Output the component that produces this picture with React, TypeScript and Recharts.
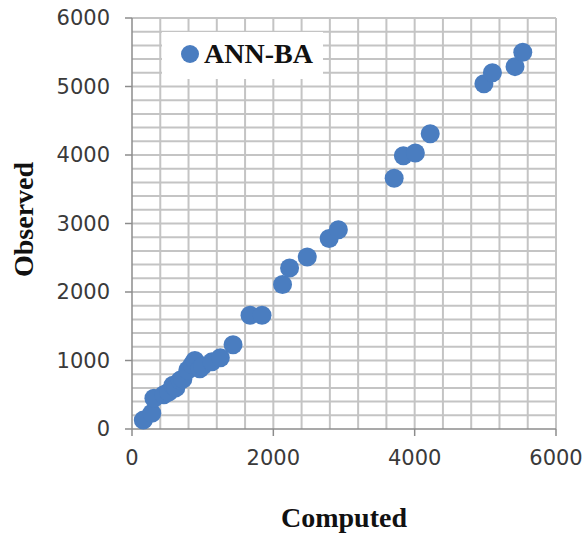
import React from 'react';
import {
  ScatterChart,
  Scatter,
  XAxis,
  YAxis,
  CartesianGrid,
  Legend,
  Label,
} from 'recharts';

// computed vs observed (ANN-BA)
const computed = [160, 280, 310, 450, 520, 580, 620, 680, 720, 790, 850, 890, 960, 1000, 1130, 1250, 1430, 1670, 1840, 2130, 2230, 2480, 2790, 2920, 3710, 3840, 4010, 4220, 4980, 5100, 5420, 5530];
const observed = [130, 230, 450, 500, 540, 640, 600, 710, 730, 860, 940, 1000, 880, 920, 980, 1040, 1230, 1660, 1660, 2110, 2350, 2510, 2780, 2910, 3660, 3990, 4030, 4310, 5040, 5200, 5290, 5500];

const xTicks = [0, 2000, 4000, 6000];
const yTicks = [0, 1000, 2000, 3000, 4000, 5000, 6000];
// minor grid (Excel-like)
const xGrid = [400, 800, 1200, 1600, 2000, 2400, 2800, 3200, 3600, 4000, 4400, 4800, 5200, 5600, 6000];
const yGrid = [200, 400, 600, 800, 1000, 1200, 1400, 1600, 1800, 2000, 2200, 2400, 2600, 2800, 3000, 3200, 3400, 3600, 3800, 4000, 4200, 4400, 4600, 4800, 5000, 5200, 5400, 5600, 5800, 6000];

const seriesName = 'ANN-BA';

const data = computed.map((c, i) => ({ computed: c, observed: observed[i] }));

const BLUE = '#4a7dc0';
const GRID = '#c4c4c4';
const AXIS = '#8c8c8c';
const serif = '"Liberation Serif", "Times New Roman", serif';
const tickStyle = { fontSize: 21, fill: '#3a3a3a', fontFamily: '"DejaVu Sans", sans-serif' };

// value -> pixel through the axis scale (recharts 3 may wrap it)
function toPx(axis: any, v: number, fallback: (v: number) => number) {
  const s = axis && axis.scale;
  if (typeof s === 'function') {
    const r = s(v);
    if (typeof r === 'number' && !isNaN(r)) return r;
  }
  if (s && typeof s.map === 'function') {
    const r = s.map(v);
    if (typeof r === 'number' && !isNaN(r)) return r;
  }
  return fallback(v);
}

function vertical({ xAxis, offset }: any) {
  const [d0, d1] = [0, 6000];
  return xGrid.map((v) =>
    toPx(xAxis, v, (u) => offset.left + ((u - d0) / (d1 - d0)) * offset.width)
  );
}
function horizontal({ yAxis, offset }: any) {
  const [d0, d1] = [0, 6000];
  return yGrid.map((v) =>
    toPx(yAxis, v, (u) => offset.top + offset.height - ((u - d0) / (d1 - d0)) * offset.height)
  );
}

function Dot(props: any) {
  const { cx, cy } = props;
  return <circle cx={cx} cy={cy} r={9.5} fill={BLUE} />;
}

function LegendBox() {
  return (
    <div
      style={{
        width: 161,
        height: 47,
        background: '#fff',
        display: 'flex',
        alignItems: 'center',
      }}
    >
      <svg width={37} height={47}>
        <circle cx={28} cy={22} r={9} fill={BLUE} />
      </svg>
      <span
        style={{
          fontFamily: serif,
          fontWeight: 'bold',
          fontSize: 28,
          color: '#111',
          marginLeft: 5,
          marginTop: -3,
        }}
      >
        {seriesName}
      </span>
    </div>
  );
}

function ObservedLabel(props: any) {
  const { viewBox } = props;
  const x = viewBox.x + 33;
  const y = viewBox.y + viewBox.height / 2 - 4;
  return (
    <text
      x={x}
      y={y}
      transform={`rotate(-90, ${x}, ${y})`}
      textAnchor="middle"
      fontFamily={serif}
      fontWeight="bold"
      fontSize={28}
      fill="#111"
    >
      Observed
    </text>
  );
}

export default function App() {
  return (
    <div style={{ position: 'absolute', left: 0, top: 0, background: '#fff' }}>
      <ScatterChart
        width={583}
        height={533}
        margin={{ top: 18, right: 27, bottom: 0, left: 0 }}
      >
        <CartesianGrid
          stroke={GRID}
          strokeWidth={2}
          verticalCoordinatesGenerator={vertical}
          horizontalCoordinatesGenerator={horizontal}
        />
        <XAxis
          type="number"
          dataKey="computed"
          domain={[0, 6000]}
          ticks={xTicks}
          height={104}
          axisLine={{ stroke: AXIS, strokeWidth: 1.5 }}
          tickLine={{ stroke: AXIS, strokeWidth: 1.5 }}
          tickSize={7}
          tickMargin={14}
          tick={tickStyle}
        >
          <Label
            value="Computed"
            position="insideBottom"
            offset={6}
            style={{ fontFamily: serif, fontWeight: 'bold', fontSize: 28, fill: '#111' }}
          />
        </XAxis>
        <YAxis
          type="number"
          dataKey="observed"
          domain={[0, 6000]}
          ticks={yTicks}
          width={132}
          axisLine={{ stroke: AXIS, strokeWidth: 1.5 }}
          tickLine={{ stroke: AXIS, strokeWidth: 1.5 }}
          tickSize={7}
          tickMargin={15}
          tick={tickStyle}
          label={<ObservedLabel />}
        />
        <Legend
          layout="vertical"
          align="center"
          verticalAlign="middle"
          content={<LegendBox />}
          wrapperStyle={{ left: 162, top: 32, width: 161, height: 47 }}
        />
        <Scatter
          name={seriesName}
          data={data}
          fill={BLUE}
          shape={<Dot />}
          isAnimationActive={false}
        />
      </ScatterChart>
    </div>
  );
}
